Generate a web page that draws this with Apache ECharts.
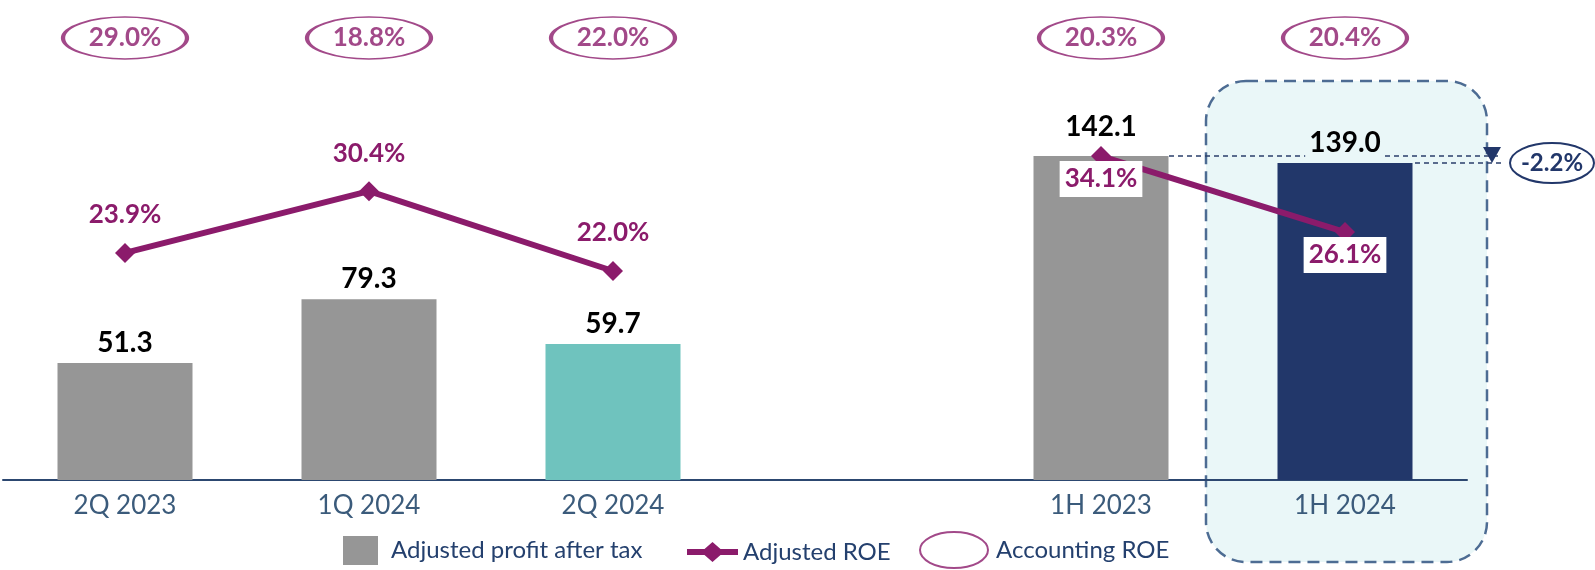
<!DOCTYPE html>
<html>
<head>
<meta charset="utf-8">
<style type="text/css">
  html, body { margin: 0; padding: 0; background: #fff; }
  #chart { width: 1595px; height: 570px; }
</style>
<script src="https://cdn.jsdelivr.net/npm/echarts@6/dist/echarts.min.js"></script>
</head>
<body>
<div id="chart"></div>
<script type="text/javascript">
// quarters on the left, half-years on the right, one empty slot between
var quarterCats = ['2Q 2023', '1Q 2024', '2Q 2024'];
var halfCats = ['1H 2023', '1H 2024'];

var profitQ = [51.3, 79.3, 59.7];
var profitH = [142.1, 139.0];

var adjRoeQ = [23.9, 30.4, 22.0];
var adjRoeH = [34.1, 26.1];

var accRoeQ = [29.0, 18.8, 22.0];
var accRoeH = [20.3, 20.4];

var PURPLE = '#8b1b6b';
var NAVY = '#22376a';
var FONT = 'Lato';
var BAR_COLORS = { '2Q 2024': '#6fc3be', '1H 2024': NAVY };

// legend icons: thick line with a diamond, and an outlined ellipse
var LINE_ICON = 'path://M0,7 H17.5 L25.5,0 L33.5,7 H51 V13 H33.5 L25.5,20 L17.5,13 H0 Z';
var ELLIPSE_ICON = 'path://M1,18.5 A33,17.5 0 1,1 67,18.5 A33,17.5 0 1,1 1,18.5 Z';

var categories = quarterCats.concat([''], halfCats);
var profit = profitQ.concat(['-'], profitH);
var adjRoe = adjRoeQ.concat(['-'], adjRoeH);
var accRoe = accRoeQ.concat(['-'], accRoeH);

var chart = echarts.init(document.getElementById('chart'));

var barData = profit.map(function (v, i) {
    var cat = categories[i];
    var item = { value: v };
    if (BAR_COLORS[cat]) item.itemStyle = { color: BAR_COLORS[cat] };
    if (cat === '1H 2023') item.label = { distance: 15 };
    if (cat === '1H 2024') item.label = { backgroundColor: '#eaf7f8', padding: [0, 4, 4, 4], distance: 2 };
    return item;
});

var lineData = adjRoe.map(function (v, i) {
    var item = { value: v };
    if (halfCats.indexOf(categories[i]) >= 0) {
        item.label = {
            position: 'bottom', distance: -5,
            backgroundColor: '#fff', padding: [4, 5, 4, 5], lineHeight: 28
        };
    }
    return item;
});

var accData = [];
accRoe.forEach(function (v, i) {
    if (v !== '-') accData.push([categories[i], 1, v]);
});

var legendText = { color: '#24406e', fontSize: 24, fontFamily: FONT };

var option = {
    animation: false,
    textStyle: { fontFamily: FONT },
    grid: [
        { left: 3, right: 128, top: 24, bottom: 90 },
        { left: 3, right: 128, top: 17, height: 42 }
    ],
    xAxis: [{
        type: 'category',
        gridIndex: 0,
        data: categories,
        axisTick: { show: false },
        axisLine: { lineStyle: { color: '#2c4770', width: 2 } },
        axisLabel: { color: '#3b5b7b', fontSize: 26, fontFamily: FONT, margin: 13 }
    }, {
        type: 'category',
        gridIndex: 1,
        data: categories,
        show: false
    }],
    yAxis: [
        { type: 'value', gridIndex: 0, min: 0, max: 200, show: false },
        { type: 'value', gridIndex: 0, min: 0, max: 48, show: false },
        { type: 'value', gridIndex: 1, min: 0, max: 2, show: false }
    ],
    legend: [{
        data: [{ name: 'Adjusted profit after tax', icon: 'rect' }],
        left: 343, top: 536, padding: 0,
        itemWidth: 35, itemHeight: 29,
        textStyle: Object.assign({ padding: [0, 0, 0, 8] }, legendText)
    }, {
        data: [{ name: 'Adjusted ROE', icon: LINE_ICON }],
        left: 687, top: 540, padding: 0,
        itemWidth: 51, itemHeight: 20,
        textStyle: legendText
    }, {
        data: [{ name: 'Accounting ROE', icon: ELLIPSE_ICON }],
        left: 919, top: 531, padding: 0,
        itemWidth: 68, itemHeight: 37,
        textStyle: Object.assign({ padding: [0, 0, 0, 3] }, legendText)
    }],
    series: [{
        name: 'Adjusted profit after tax',
        type: 'bar',
        xAxisIndex: 0, yAxisIndex: 0,
        barWidth: 135,
        itemStyle: { color: '#969696' },
        label: {
            show: true, position: 'top', distance: 6,
            color: '#000', fontSize: 28, fontWeight: 'bold', fontFamily: FONT,
            formatter: function (p) { return p.value.toFixed(1); }
        },
        data: barData
    }, {
        name: 'Adjusted ROE',
        type: 'line',
        xAxisIndex: 0, yAxisIndex: 1,
        symbol: 'diamond',
        symbolSize: 20,
        connectNulls: false,
        lineStyle: { color: PURPLE, width: 6 },
        itemStyle: { color: PURPLE },
        label: {
            show: true, position: 'top', distance: 15,
            color: PURPLE, fontSize: 26, fontWeight: 'bold', fontFamily: FONT,
            formatter: function (p) { return p.value.toFixed(1) + '%'; }
        },
        data: lineData,
        z: 3
    }, {
        name: 'Accounting ROE',
        type: 'scatter',
        xAxisIndex: 1, yAxisIndex: 2,
        symbol: 'circle',
        symbolSize: [124, 42],
        itemStyle: { color: '#fff', borderColor: PURPLE, borderWidth: 2.5 },
        label: {
            show: true, position: 'inside',
            color: PURPLE, fontSize: 26, fontWeight: 'bold', fontFamily: FONT,
            formatter: function (p) { return p.value[2].toFixed(1) + '%'; }
        },
        data: accData
    }]
};

chart.setOption(option);

// highlight box and change annotation, placed from the axes
var xPrev = chart.convertToPixel({ xAxisIndex: 0 }, categories.indexOf(halfCats[0]));
var xCur = chart.convertToPixel({ xAxisIndex: 0 }, categories.indexOf(halfCats[1]));
var yPrev = chart.convertToPixel({ yAxisIndex: 0 }, profitH[0]);
var yCur = chart.convertToPixel({ yAxisIndex: 0 }, profitH[1]);
var change = ((profitH[1] / profitH[0] - 1) * 100).toFixed(1) + '%';
var lineEnd = xCur + 157;

chart.setOption({
    graphic: [{
        type: 'rect', z: 0,
        shape: { x: xCur - 139, y: 81, width: 281, height: 481, r: 40 },
        style: { fill: '#eaf7f8', stroke: '#4d6c93', lineWidth: 2.5, lineDash: [12, 7] }
    }, {
        type: 'line', z: 1,
        shape: { x1: xPrev + 68, y1: yPrev, x2: lineEnd, y2: yPrev },
        style: { stroke: '#2b3f6b', lineWidth: 1.5, lineDash: [5, 4] }
    }, {
        type: 'line', z: 1,
        shape: { x1: xCur + 70, y1: yCur, x2: lineEnd, y2: yCur },
        style: { stroke: '#2b3f6b', lineWidth: 1.5, lineDash: [5, 4] }
    }, {
        type: 'polygon', z: 1,
        shape: { points: [[xCur + 138, yCur - 16], [xCur + 156, yCur - 16], [xCur + 147, yCur]] },
        style: { fill: NAVY }
    }, {
        type: 'ellipse', z: 1,
        shape: { cx: xCur + 207, cy: yCur, rx: 42, ry: 20 },
        style: { fill: '#fff', stroke: NAVY, lineWidth: 2 }
    }, {
        type: 'text', z: 2,
        x: xCur + 207, y: yCur,
        style: {
            text: change, fill: NAVY, fontSize: 24, fontWeight: 'bold', fontFamily: FONT,
            align: 'center', verticalAlign: 'middle'
        }
    }]
});
</script>
</body>
</html>
